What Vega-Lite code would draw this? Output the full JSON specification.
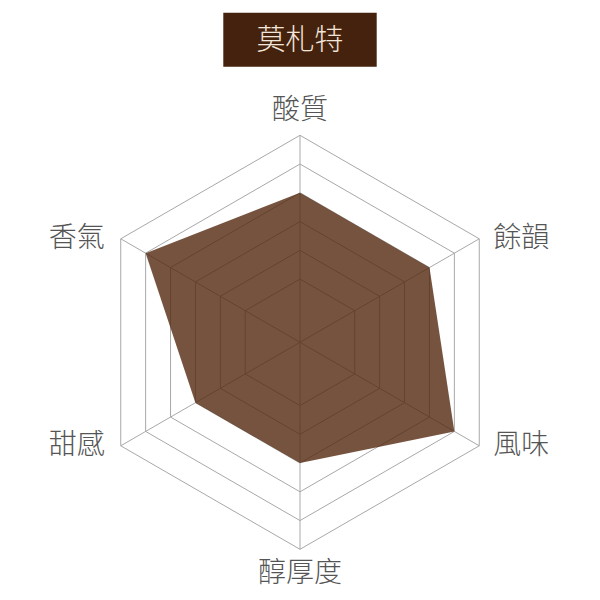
{
  "$schema": "https://vega.github.io/schema/vega-lite/v6.json",
  "description": "Radar chart of a coffee's tasting profile",
  "width": 600,
  "height": 600,
  "autosize": "none",
  "padding": 0,
  "background": "white",
  "config": {"view": {"stroke": null}},
  "datasets": {
    "profile": [
      {"axis": "酸質", "order": 0, "value": 8},
      {"axis": "餘韻", "order": 1, "value": 8},
      {"axis": "風味", "order": 2, "value": 9},
      {"axis": "醇厚度", "order": 3, "value": 7},
      {"axis": "甜感", "order": 4, "value": 7},
      {"axis": "香氣", "order": 5, "value": 9}
    ],
    "rings": [
      {"order": 0, "level": [5, 6, 7, 8, 9, 10]},
      {"order": 1, "level": [5, 6, 7, 8, 9, 10]},
      {"order": 2, "level": [5, 6, 7, 8, 9, 10]},
      {"order": 3, "level": [5, 6, 7, 8, 9, 10]},
      {"order": 4, "level": [5, 6, 7, 8, 9, 10]},
      {"order": 5, "level": [5, 6, 7, 8, 9, 10]}
    ],
    "heading": [{"name": "莫札特"}]
  },
  "layer": [
    {
      "data": {"name": "rings"},
      "transform": [
        {"flatten": ["level"]},
        {"calculate": "(90 - 60 * datum.order) * PI / 180", "as": "theta"},
        {"calculate": "(datum.level - 2.8) * cos(datum.theta)", "as": "gx"},
        {"calculate": "(datum.level - 2.8) * sin(datum.theta)", "as": "gy"}
      ],
      "mark": {"type": "line", "interpolate": "linear-closed", "stroke": "#a8a8a8", "strokeWidth": 1},
      "encoding": {
        "x": {"field": "gx", "type": "quantitative", "scale": {"domain": [-10.435, 10.435], "nice": false, "zero": false}, "axis": null},
        "y": {"field": "gy", "type": "quantitative", "scale": {"domain": [-8.963, 11.906], "nice": false, "zero": false}, "axis": null},
        "detail": {"field": "level"},
        "order": {"field": "order"}
      }
    },
    {
      "data": {"name": "profile"},
      "transform": [
        {"calculate": "(90 - 60 * datum.order) * PI / 180", "as": "theta"},
        {"calculate": "7.2 * cos(datum.theta)", "as": "ox"},
        {"calculate": "7.2 * sin(datum.theta)", "as": "oy"}
      ],
      "mark": {"type": "rule", "stroke": "#a8a8a8", "strokeWidth": 1},
      "encoding": {
        "x": {"field": "ox", "type": "quantitative"},
        "y": {"field": "oy", "type": "quantitative"},
        "x2": {"datum": 0},
        "y2": {"datum": 0}
      }
    },
    {
      "data": {"name": "profile"},
      "transform": [
        {"calculate": "(90 - 60 * datum.order) * PI / 180", "as": "theta"},
        {"calculate": "(datum.value - 2.8) * cos(datum.theta)", "as": "px"},
        {"calculate": "(datum.value - 2.8) * sin(datum.theta)", "as": "py"}
      ],
      "mark": {"type": "line", "interpolate": "linear-closed", "fill": "#54280f", "fillOpacity": 0.8, "strokeOpacity": 0},
      "encoding": {
        "x": {"field": "px", "type": "quantitative"},
        "y": {"field": "py", "type": "quantitative"},
        "order": {"field": "order"}
      }
    },
    {
      "data": {"name": "profile"},
      "transform": [
        {"filter": {"field": "order", "oneOf": [0, 3]}},
        {"calculate": "(90 - 60 * datum.order) * PI / 180", "as": "theta"},
        {"calculate": "8.05 * cos(datum.theta)", "as": "lx"},
        {"calculate": "8.05 * sin(datum.theta)", "as": "ly"}
      ],
      "mark": {"type": "text", "align": "center", "baseline": "middle", "font": "Noto Sans CJK TC", "fontSize": 28, "fontWeight": 300, "color": "#555555"},
      "encoding": {
        "x": {"field": "lx", "type": "quantitative"},
        "y": {"field": "ly", "type": "quantitative"},
        "text": {"field": "axis"}
      }
    },
    {
      "data": {"name": "profile"},
      "transform": [
        {"filter": {"field": "order", "oneOf": [1, 2]}},
        {"calculate": "(90 - 60 * datum.order) * PI / 180", "as": "theta"},
        {"calculate": "7.2 * cos(datum.theta)", "as": "lx"},
        {"calculate": "7.2 * sin(datum.theta)", "as": "ly"}
      ],
      "mark": {"type": "text", "align": "left", "baseline": "middle", "dx": 14, "font": "Noto Sans CJK TC", "fontSize": 28, "fontWeight": 300, "color": "#555555"},
      "encoding": {
        "x": {"field": "lx", "type": "quantitative"},
        "y": {"field": "ly", "type": "quantitative"},
        "text": {"field": "axis"}
      }
    },
    {
      "data": {"name": "profile"},
      "transform": [
        {"filter": {"field": "order", "oneOf": [4, 5]}},
        {"calculate": "(90 - 60 * datum.order) * PI / 180", "as": "theta"},
        {"calculate": "7.2 * cos(datum.theta)", "as": "lx"},
        {"calculate": "7.2 * sin(datum.theta)", "as": "ly"}
      ],
      "mark": {"type": "text", "align": "right", "baseline": "middle", "dx": -16, "font": "Noto Sans CJK TC", "fontSize": 28, "fontWeight": 300, "color": "#555555"},
      "encoding": {
        "x": {"field": "lx", "type": "quantitative"},
        "y": {"field": "ly", "type": "quantitative"},
        "text": {"field": "axis"}
      }
    },
    {
      "data": {"name": "heading"},
      "mark": {"type": "rect", "color": "#45220e"},
      "encoding": {
        "x": {"datum": -2.668},
        "x2": {"datum": 2.668},
        "y": {"datum": 11.464},
        "y2": {"datum": 9.586}
      }
    },
    {
      "data": {"name": "heading"},
      "mark": {"type": "text", "align": "center", "baseline": "middle", "font": "Noto Sans CJK TC", "fontSize": 29, "fontWeight": 300, "color": "#f2e6da"},
      "encoding": {
        "x": {"datum": 0},
        "y": {"datum": 10.48},
        "text": {"field": "name"}
      }
    }
  ]
}
